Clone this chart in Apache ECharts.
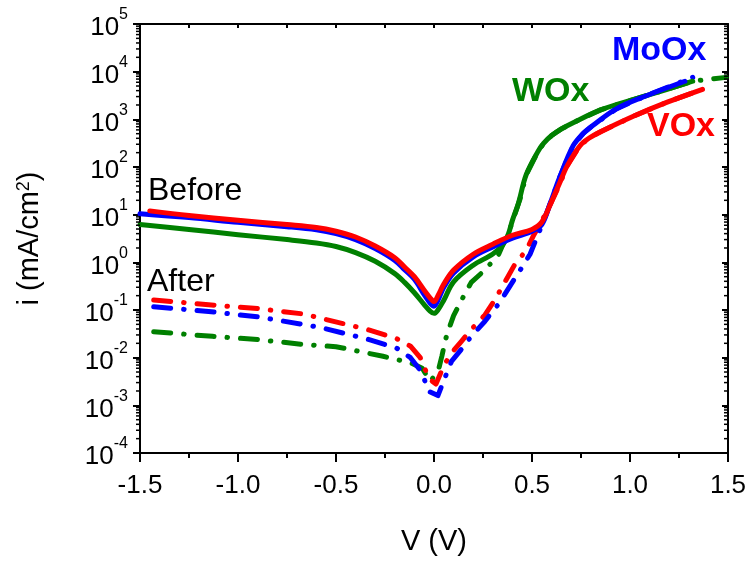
<!DOCTYPE html>
<html>
<head>
<meta charset="utf-8">
<script src="https://cdn.jsdelivr.net/npm/echarts@6/dist/echarts.min.js"></script>
<style>
  html, body { margin: 0; padding: 0; background: #fff; }
  #chart { width: 751px; height: 561px; }
</style>
</head>
<body>
<div id="chart"></div>
<script>
// voltage (V) and current density (mA/cm2)
const vVOxBefore = [-1.45, -1.25, -1.0, -0.75, -0.6, -0.5, -0.4, -0.3, -0.2, -0.15, -0.1, -0.05, -0.02, 0, 0.02, 0.05, 0.1, 0.2, 0.3, 0.4, 0.5, 0.55, 0.6, 0.64, 0.68, 0.745, 0.79, 0.85, 1.02, 1.19, 1.37];
const iVOxBefore = [12, 9.6, 7.6, 6.2, 5.4, 4.5, 3.4, 2.2, 1.25, 0.8, 0.5, 0.26, 0.18, 0.15, 0.2, 0.35, 0.69, 1.48, 2.4, 3.7, 4.9, 7.0, 19, 45, 107, 280, 400, 550, 1175, 2290, 4270];

const vMoOxBefore = [-1.5, -1.25, -1.0, -0.75, -0.6, -0.5, -0.4, -0.3, -0.2, -0.15, -0.1, -0.05, -0.02, 0, 0.02, 0.05, 0.1, 0.2, 0.3, 0.4, 0.5, 0.55, 0.59, 0.64, 0.71, 0.76, 0.81, 0.93, 1.08, 1.28];
const iMoOxBefore = [10.5, 8.7, 6.9, 5.6, 4.8, 4.0, 3.0, 1.95, 1.1, 0.7, 0.44, 0.21, 0.14, 0.12, 0.16, 0.3, 0.6, 1.3, 2.1, 3.2, 4.5, 6.2, 16, 59, 280, 500, 740, 1660, 3090, 6300];

const vWOxBefore = [-1.5, -1.25, -1.0, -0.75, -0.6, -0.5, -0.4, -0.3, -0.2, -0.15, -0.1, -0.05, -0.02, 0, 0.02, 0.05, 0.1, 0.2, 0.3, 0.35, 0.38, 0.4, 0.43, 0.47, 0.53, 0.56, 0.6, 0.65, 0.71, 0.85, 1.02, 1.19, 1.32];
const iWOxBefore = [6.2, 4.9, 3.8, 3.0, 2.55, 2.15, 1.6, 1.05, 0.58, 0.38, 0.23, 0.13, 0.095, 0.085, 0.1, 0.16, 0.39, 0.87, 1.5, 2.3, 4.0, 7.6, 17, 68, 210, 316, 457, 630, 850, 1580, 2630, 4270, 6300];

const vVOxAfter = [-1.43, -1.15, -0.9, -0.67, -0.34, -0.19, -0.12, -0.07, -0.025, 0.01, 0.05, 0.09, 0.14, 0.19, 0.26, 0.31, 0.41, 0.47, 0.51, 0.55, 0.6, 0.64, 0.68, 0.745, 0.79, 0.85, 1.02, 1.19, 1.37];
const iVOxAfter = [0.162, 0.129, 0.107, 0.083, 0.039, 0.025, 0.0174, 0.01, 0.0036, 0.0028, 0.0068, 0.0126, 0.022, 0.039, 0.079, 0.162, 0.87, 1.78, 3.8, 7.4, 18.6, 42, 107, 282, 400, 550, 1175, 2290, 4270];

const vMoOxAfter = [-1.43, -1.15, -0.9, -0.67, -0.58, -0.34, -0.19, -0.12, -0.06, -0.03, 0.02, 0.06, 0.09, 0.14, 0.19, 0.26, 0.33, 0.44, 0.49, 0.54, 0.59, 0.64, 0.71, 0.76, 0.81, 0.93, 1.08, 1.32];
const iMoOxAfter = [0.117, 0.093, 0.072, 0.05, 0.043, 0.0245, 0.0158, 0.01, 0.0048, 0.002, 0.0016, 0.0042, 0.0085, 0.015, 0.028, 0.058, 0.135, 0.69, 1.48, 4.7, 15.8, 59, 282, 500, 741, 1660, 3090, 7590];

const vWOxAfter = [-1.43, -1.13, -0.9, -0.67, -0.5, -0.26, -0.12, -0.06, -0.02, 0.02, 0.04, 0.06, 0.08, 0.1, 0.14, 0.19, 0.26, 0.33, 0.39, 0.44, 0.47, 0.53, 0.56, 0.6, 0.65, 0.71, 0.85, 1.02, 1.19, 1.32, 1.49];
const iWOxAfter = [0.035, 0.028, 0.024, 0.019, 0.017, 0.0107, 0.0078, 0.006, 0.0032, 0.005, 0.0107, 0.025, 0.045, 0.076, 0.16, 0.38, 0.69, 1.48, 5.4, 22, 68, 209, 316, 457, 630, 850, 1580, 2630, 4270, 6310, 7590];

const xMin = -1.5, xMax = 1.5, xStep = 0.5;
const yMin = 1e-4, yMax = 1e5;
const minorMult = [2, 3, 4, 5, 6, 7, 8, 9];
const decades = [-4, -3, -2, -1, 0, 1, 2, 3, 4];

const RED = '#ff0000', BLUE = '#0000ff', GREEN = '#008000';
const FONT = 'Arial, "Liberation Sans", sans-serif';

const pairs = (vs, is) => vs.map((v, k) => [v, is[k]]);

// log minor tick positions (2..9 x 10^n)
let minorVals = [];
decades.forEach(d => minorMult.forEach(m => minorVals.push([xMin, m * Math.pow(10, d)])));

const dashDot = [17, 13, 0.5, 13];

function beforeLine(name, color, data) {
  return {
    name, type: 'line', data, showSymbol: false, smooth: 0.35,
    lineStyle: { color, width: 5, cap: 'round', join: 'round' }, z: 3
  };
}
function afterLine(name, color, data) {
  return {
    name, type: 'line', data, showSymbol: false,
    lineStyle: { color, width: 5, type: dashDot, cap: 'round', join: 'round' }, z: 2
  };
}

const chart = echarts.init(document.getElementById('chart'));
chart.setOption({
  animation: false,
  backgroundColor: '#fff',
  grid: { left: 140, right: 23, top: 24, bottom: 103 },
  xAxis: [{
    type: 'value', min: xMin, max: xMax, interval: xStep,
    name: 'V (V)', nameLocation: 'middle', nameGap: 74,
    nameTextStyle: { fontFamily: FONT, fontSize: 29, color: '#000' },
    axisLine: { onZero: false, lineStyle: { color: '#000', width: 2 } },
    axisTick: { inside: false, length: 9, lineStyle: { color: '#000', width: 2 } },
    minorTick: { show: true, splitNumber: 2, length: 5, lineStyle: { color: '#000', width: 2 } },
    axisLabel: { margin: 20, fontFamily: FONT, fontSize: 26, color: '#000',
      formatter: v => v.toFixed(1) },
    splitLine: { show: false }
  }, {
    type: 'value', position: 'top', min: xMin, max: xMax, interval: xStep,
    axisLine: { onZero: false, lineStyle: { color: '#000', width: 2 } },
    axisTick: { inside: true, length: 4, lineStyle: { color: '#000', width: 2 } },
    minorTick: { show: true, splitNumber: 2, length: 4, lineStyle: { color: '#000', width: 2 } },
    axisLabel: { show: false },
    splitLine: { show: false }
  }],
  yAxis: [{
    type: 'log', logBase: 10, min: yMin, max: yMax,
    name: '{t|i (mA/cm}{s|2}{t|)}', nameLocation: 'middle', nameGap: 96,
    nameTextStyle: {
      rich: {
        t: { fontFamily: FONT, fontSize: 29, color: '#000' },
        s: { fontFamily: FONT, fontSize: 18, color: '#000', verticalAlign: 'top' }
      }
    },
    axisLine: { onZero: false, lineStyle: { color: '#000', width: 2 } },
    axisTick: { inside: false, length: 7, lineStyle: { color: '#000', width: 2 } },
    axisLabel: {
      margin: 12,
      formatter: v => '{b|10}{s|' + Math.round(Math.log10(v)) + '}',
      rich: {
        b: { fontFamily: FONT, fontSize: 26, color: '#000', padding: [8, 0, 0, 0] },
        s: { fontFamily: FONT, fontSize: 16, color: '#000', verticalAlign: 'top' }
      }
    },
    splitLine: { show: false }
  }, {
    type: 'log', logBase: 10, min: yMin, max: yMax, position: 'right',
    axisLine: { onZero: false, lineStyle: { color: '#000', width: 2 } },
    axisTick: { inside: true, length: 6, lineStyle: { color: '#000', width: 2 } },
    axisLabel: { show: false },
    splitLine: { show: false }
  }],
  series: [
    afterLine('WOx after', GREEN, pairs(vWOxAfter, iWOxAfter)),
    afterLine('VOx after', RED, pairs(vVOxAfter, iVOxAfter)),
    afterLine('MoOx after', BLUE, pairs(vMoOxAfter, iMoOxAfter)),
    beforeLine('WOx before', GREEN, pairs(vWOxBefore, iWOxBefore)),
    beforeLine('MoOx before', BLUE, pairs(vMoOxBefore, iMoOxBefore)),
    beforeLine('VOx before', RED, pairs(vVOxBefore, iVOxBefore)),
    {
      // log minor ticks, left (outside) and right (inside)
      type: 'custom', silent: true, clip: false, z: 5,
      data: minorVals,
      renderItem: (params, api) => {
        const pL = api.coord([xMin, api.value(1)]);
        const pR = api.coord([xMax, api.value(1)]);
        const st = { stroke: '#000', lineWidth: 1.5 };
        return {
          type: 'group', children: [
            { type: 'line', shape: { x1: pL[0] - 4, y1: pL[1], x2: pL[0], y2: pL[1] }, style: st },
            { type: 'line', shape: { x1: pR[0] - 4, y1: pR[1], x2: pR[0], y2: pR[1] }, style: st }
          ]
        };
      }
    }
  ],
  graphic: [
    { type: 'text', left: 148, top: 175, style: { text: 'Before', fontFamily: FONT, fontSize: 32, fill: '#000' } },
    { type: 'text', left: 147, top: 266, style: { text: 'After', fontFamily: FONT, fontSize: 32, fill: '#000' } },
    { type: 'text', left: 612, top: 34, style: { text: 'MoOx', fontFamily: FONT, fontSize: 34, fontWeight: 'bold', fill: BLUE } },
    { type: 'text', left: 512, top: 75, style: { text: 'WOx', fontFamily: FONT, fontSize: 34, fontWeight: 'bold', fill: GREEN } },
    { type: 'text', left: 647, top: 110, style: { text: 'VOx', fontFamily: FONT, fontSize: 34, fontWeight: 'bold', fill: RED } }
  ]
});
</script>
</body>
</html>
